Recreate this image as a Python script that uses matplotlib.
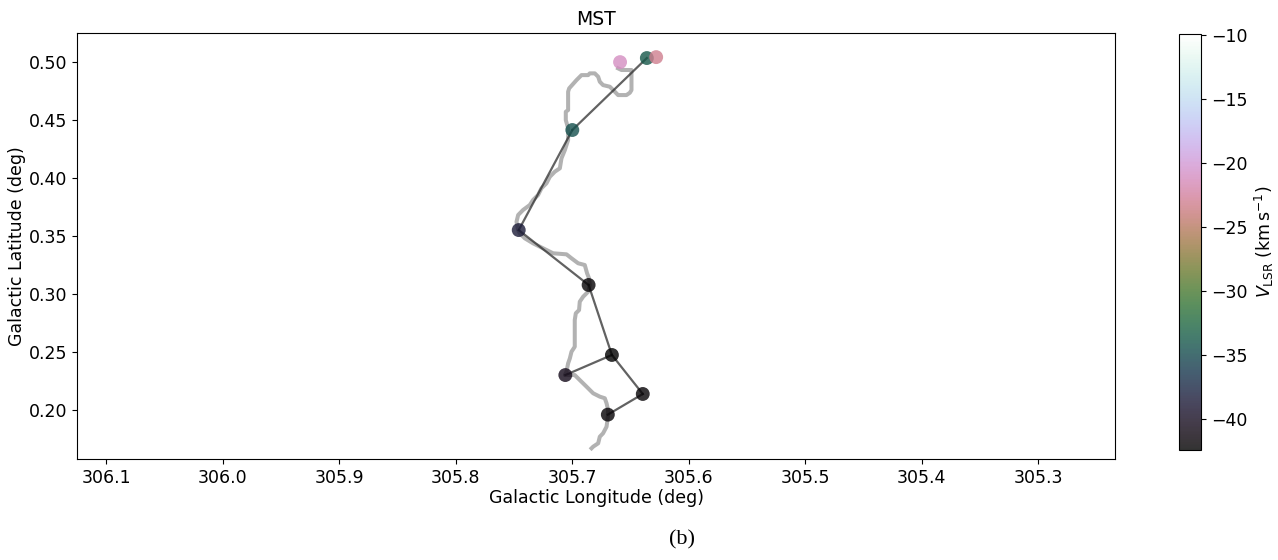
import matplotlib
matplotlib.use("Agg")
import matplotlib.pyplot as plt
import numpy as np

# MST nodes (Galactic longitude, latitude, VLSR)
node_lon = [305.636, 305.700, 305.746, 305.686, 305.666, 305.706, 305.6395, 305.6695]
node_lat = [0.5032, 0.4412, 0.3550, 0.3077, 0.2474, 0.2301, 0.2138, 0.1960]
node_v = [-33.8, -34.5, -38.5, -42.0, -42.4, -40.5, -42.0, -42.0]

# isolated (unconnected) nodes
iso_lon = [305.659, 305.628]
iso_lat = [0.4997, 0.5040]
iso_v = [-21.0, -23.0]

# MST edges (index pairs into node arrays)
edges = [(0, 1), (1, 2), (2, 3), (3, 4), (4, 5), (4, 6), (6, 7)]

# filament spine (gray path)
spine_lon = [305.6607, 305.6578, 305.6492, 305.6492, 305.6506, 305.6535, 305.6607,
             305.6635, 305.6678, 305.6736, 305.6764, 305.6778, 305.6807, 305.6850,
             305.6864, 305.6921, 305.6964, 305.7027, 305.7036, 305.7036, 305.7056,
             305.7056, 305.7036, 305.7036, 305.7064, 305.7093, 305.7107, 305.7150,
             305.7193, 305.7222, 305.7265, 305.7294, 305.7337, 305.7365, 305.7423,
             305.7465, 305.7479, 305.7465, 305.7451, 305.7408, 305.7337, 305.7251,
             305.7165, 305.7050, 305.7007, 305.6950, 305.6893, 305.6873, 305.6856,
             305.6850, 305.6864, 305.6907, 305.6936, 305.6942, 305.6970, 305.6979,
             305.6979, 305.7007, 305.7021, 305.7036, 305.7050, 305.7064, 305.6979,
             305.6936, 305.6878, 305.6821, 305.6764, 305.6721, 305.6706, 305.6693,
             305.6693, 305.6706, 305.6736, 305.6764, 305.6778, 305.6821, 305.6835]
spine_lat = [0.4943, 0.4929, 0.4929, 0.4756, 0.4733, 0.4713, 0.4713,
             0.4742, 0.4785, 0.4799, 0.4828, 0.4871, 0.4900, 0.4900,
             0.4885, 0.4885, 0.4842, 0.4771, 0.4742, 0.4584, 0.4569,
             0.4498, 0.4426, 0.4326, 0.4239, 0.4168, 0.4082, 0.4053,
             0.4009, 0.3953, 0.3910, 0.3852, 0.3809, 0.3766, 0.3723,
             0.3680, 0.3622, 0.3550, 0.3522, 0.3479, 0.3436, 0.3393,
             0.3350, 0.3341, 0.3307, 0.3264, 0.3249, 0.3177, 0.3134,
             0.3077, 0.3019, 0.2976, 0.2933, 0.2861, 0.2833, 0.2775,
             0.2545, 0.2502, 0.2445, 0.2402, 0.2330, 0.2301, 0.2301,
             0.2258, 0.2201, 0.2144, 0.2115, 0.2101, 0.2058, 0.2000,
             0.1957, 0.1856, 0.1799, 0.1770, 0.1713, 0.1684, 0.1670]

x_ticks = [306.1, 306.0, 305.9, 305.8, 305.7, 305.6, 305.5, 305.4, 305.3]
y_ticks = [0.20, 0.25, 0.30, 0.35, 0.40, 0.45, 0.50]
cb_ticks = [-10, -15, -20, -25, -30, -35, -40]
vmin, vmax = -42.4, -9.9

fig = plt.figure(figsize=(12.78, 5.6), dpi=100)
ax = fig.add_axes([0.0605, 0.1804, 0.812, 0.7601])
cax = fig.add_axes([0.9225, 0.1964, 0.0172, 0.7426])

ax.plot(spine_lon, spine_lat, color="gray", alpha=0.6, lw=2.9, zorder=1)
for i, j in edges:
    ax.plot([node_lon[i], node_lon[j]], [node_lat[i], node_lat[j]],
            color="#2e2e2e", alpha=0.75, lw=1.6, zorder=2)
sc = ax.scatter(node_lon + iso_lon, node_lat + iso_lat, c=node_v + iso_v,
                cmap="cubehelix", vmin=vmin, vmax=vmax, s=100, alpha=0.8,
                edgecolors="none", zorder=3)

ax.set_xlim(306.125, 305.234)
ax.set_ylim(0.1578, 0.5245)
ax.set_xticks(x_ticks)
ax.set_yticks(y_ticks)
ax.set_xticklabels([f"{t:.1f}" for t in x_ticks])
ax.set_yticklabels([f"{t:.2f}" for t in y_ticks])
ax.tick_params(labelsize=12.5)
ax.set_xlabel("Galactic Longitude (deg)", fontsize=12.5, labelpad=2)
ax.set_ylabel("Galactic Latitude (deg)", fontsize=12.5, labelpad=2)
ax.set_title("MST", fontsize=13.5, pad=6)

cb = fig.colorbar(sc, cax=cax)
cb.set_ticks(cb_ticks)
cb.ax.tick_params(labelsize=12.5)
cb.set_label(r"$V_{\rm LSR}$ (km$\,$s$^{-1}$)", fontsize=12.5)

fig.text(0.534, 0.036, "(b)", family="Liberation Serif", fontsize=16,
         ha="center", va="center")

fig.savefig("out.png", dpi=100)
